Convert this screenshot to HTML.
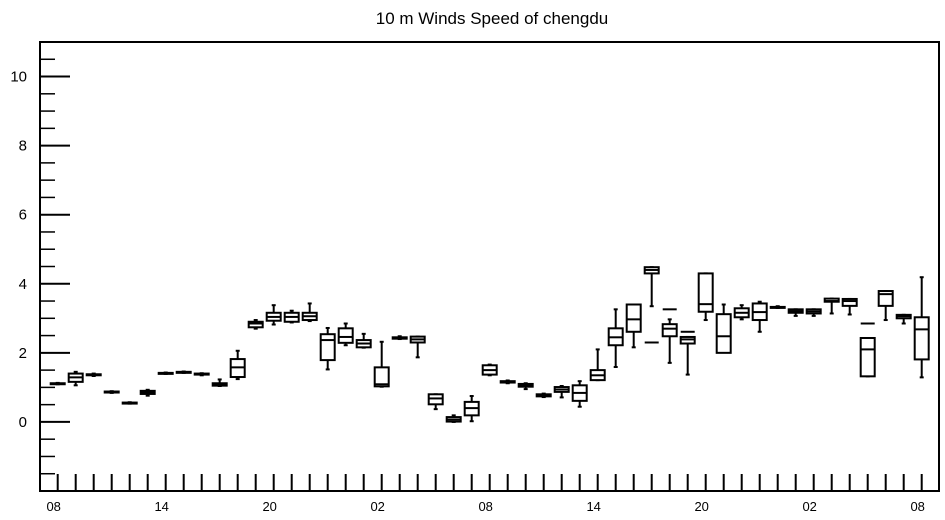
<!DOCTYPE html>
<html><head><meta charset="utf-8"><style>
html,body{margin:0;padding:0;background:#fff;}
svg{display:block;font-family:"Liberation Sans",sans-serif;}
</style></head><body>
<svg id="chart" width="945" height="520" xmlns="http://www.w3.org/2000/svg">
<text x="492" y="24" font-size="17" text-anchor="middle">10 m Winds Speed of chengdu</text>
<g id="axes"></g>
<g id="boxes"></g>
<rect x="40" y="42" width="899" height="449" fill="none" stroke="#000" stroke-width="2"/>
</svg>
<script>
// hourly box statistics: [min, q1, median, q3, max]
const mins = [1.09,1.06,1.33,0.84,0.53,0.76,1.39,1.42,1.35,1.04,1.24,2.70,2.82,2.88,2.92,1.52,2.22,2.15,1.02,2.40,1.87,0.37,0.00,0.02,1.35,1.12,0.95,0.72,0.71,0.44,1.21,1.59,2.16,3.35,1.71,1.37,2.95,2.08,2.97,2.61,3.30,3.07,3.07,3.14,3.11,1.32,2.95,2.85,1.29];
const q1s  = [1.10,1.16,1.35,0.86,0.54,0.81,1.40,1.43,1.37,1.05,1.30,2.74,2.93,2.90,2.95,1.79,2.29,2.16,1.03,2.41,2.30,0.51,0.01,0.19,1.37,1.14,1.02,0.74,0.87,0.61,1.21,2.22,2.61,4.30,2.48,2.27,3.19,2.00,3.03,2.95,3.31,3.16,3.14,3.48,3.36,1.32,3.36,3.00,1.81];
const meds = [1.11,1.29,1.37,0.87,0.55,0.86,1.41,1.44,1.38,1.09,1.58,2.85,3.04,3.04,3.06,2.37,2.46,2.27,1.09,2.43,2.39,0.68,0.07,0.40,1.50,1.16,1.06,0.77,0.94,0.84,1.35,2.45,2.97,4.40,2.70,2.39,3.41,2.48,3.16,3.18,3.32,3.21,3.20,3.50,3.50,2.10,3.70,3.06,2.68];
const q3s  = [1.12,1.40,1.38,0.88,0.56,0.90,1.42,1.45,1.40,1.12,1.82,2.90,3.16,3.16,3.16,2.54,2.71,2.37,1.58,2.45,2.47,0.80,0.14,0.58,1.64,1.18,1.10,0.80,1.01,1.06,1.50,2.71,3.40,4.48,2.83,2.46,4.30,3.12,3.29,3.43,3.33,3.26,3.26,3.57,3.56,2.43,3.79,3.10,3.03];
const maxs = [1.13,1.45,1.40,0.89,0.57,0.93,1.43,1.46,1.41,1.23,2.06,2.95,3.38,3.22,3.43,2.72,2.85,2.55,2.32,2.48,2.47,0.80,0.19,0.75,1.66,1.20,1.12,0.82,1.04,1.18,2.10,3.26,3.40,4.48,2.97,2.46,4.30,3.40,3.38,3.48,3.35,3.26,3.26,3.57,3.56,2.43,3.79,3.10,4.19];
// isolated horizontal marks: hour index and value
const extraHours = [33,34,35,45];
const extraVals  = [2.30,3.26,2.61,2.85];
const yTicks = [0,2,4,6,8,10];
const xLabels = ["08","14","20","02","08","14","20","02","08"];

const NS="http://www.w3.org/2000/svg";
const yMin=-2,yMax=11,plotTop=42,plotBot=491,plotLeft=40;
function yS(v){return plotBot-(v-yMin)/(yMax-yMin)*(plotBot-plotTop);}
function xS(i){return 57.7+18*i;}
function mk(tag,attrs,parent){const e=document.createElementNS(NS,tag);for(const k in attrs)e.setAttribute(k,attrs[k]);parent.appendChild(e);return e;}
const axesG=document.getElementById('axes'),boxesG=document.getElementById('boxes');
// y ticks
for(let v=-1.5;v<=10.5001;v+=0.5){
  const major=Math.abs(v-Math.round(v/2)*2)<1e-6;
  const t=mk('line',{x1:plotLeft,x2:plotLeft+(major?30:15),y1:yS(v),y2:yS(v),stroke:'#000','stroke-width':major?2:1.5},axesG);
  
  
}
yTicks.forEach(v=>{
  const t=mk('text',{x:27,y:yS(v)+5,'font-size':15,'text-anchor':'end'},axesG);
  t.textContent=v;
  
  
});
// x ticks
for(let i=0;i<49;i++){
  const t=mk('line',{x1:xS(i),x2:xS(i),y1:plotBot,y2:plotBot-17,stroke:'#000','stroke-width':2},axesG);
  
  
}
xLabels.forEach((s,k)=>{
  const t=mk('text',{x:xS(k*6)-4,y:511,'font-size':13,'text-anchor':'middle'},axesG);
  t.textContent=s;
  
  
});
// boxes
const hw=7;
meds.forEach((m,i)=>{
  const g=mk('g',{},boxesG);
  
  
  const cx=xS(i);
  mk('line',{x1:cx,x2:cx,y1:yS(maxs[i]),y2:yS(q3s[i]),stroke:'#000','stroke-width':2},g);
  mk('line',{x1:cx,x2:cx,y1:yS(q1s[i]),y2:yS(mins[i]),stroke:'#000','stroke-width':2},g);
  mk('line',{x1:cx-2,x2:cx+2,y1:yS(maxs[i]),y2:yS(maxs[i]),stroke:'#000','stroke-width':2},g);
  mk('line',{x1:cx-2,x2:cx+2,y1:yS(mins[i]),y2:yS(mins[i]),stroke:'#000','stroke-width':2},g);
  const h=Math.max(yS(q1s[i])-yS(q3s[i]),1);
  mk('rect',{x:cx-hw,y:yS(q3s[i]),width:2*hw,height:h,fill:'#fff',stroke:'#000','stroke-width':2},g);
  mk('line',{x1:cx-hw,x2:cx+hw,y1:yS(m),y2:yS(m),stroke:'#000','stroke-width':2},g);
});
extraHours.forEach((h,k)=>{
  const e=mk('line',{x1:xS(h)-hw,x2:xS(h)+hw,y1:yS(extraVals[k]),y2:yS(extraVals[k]),stroke:'#000','stroke-width':2},boxesG);
  
  
});
</script>
</body></html>
